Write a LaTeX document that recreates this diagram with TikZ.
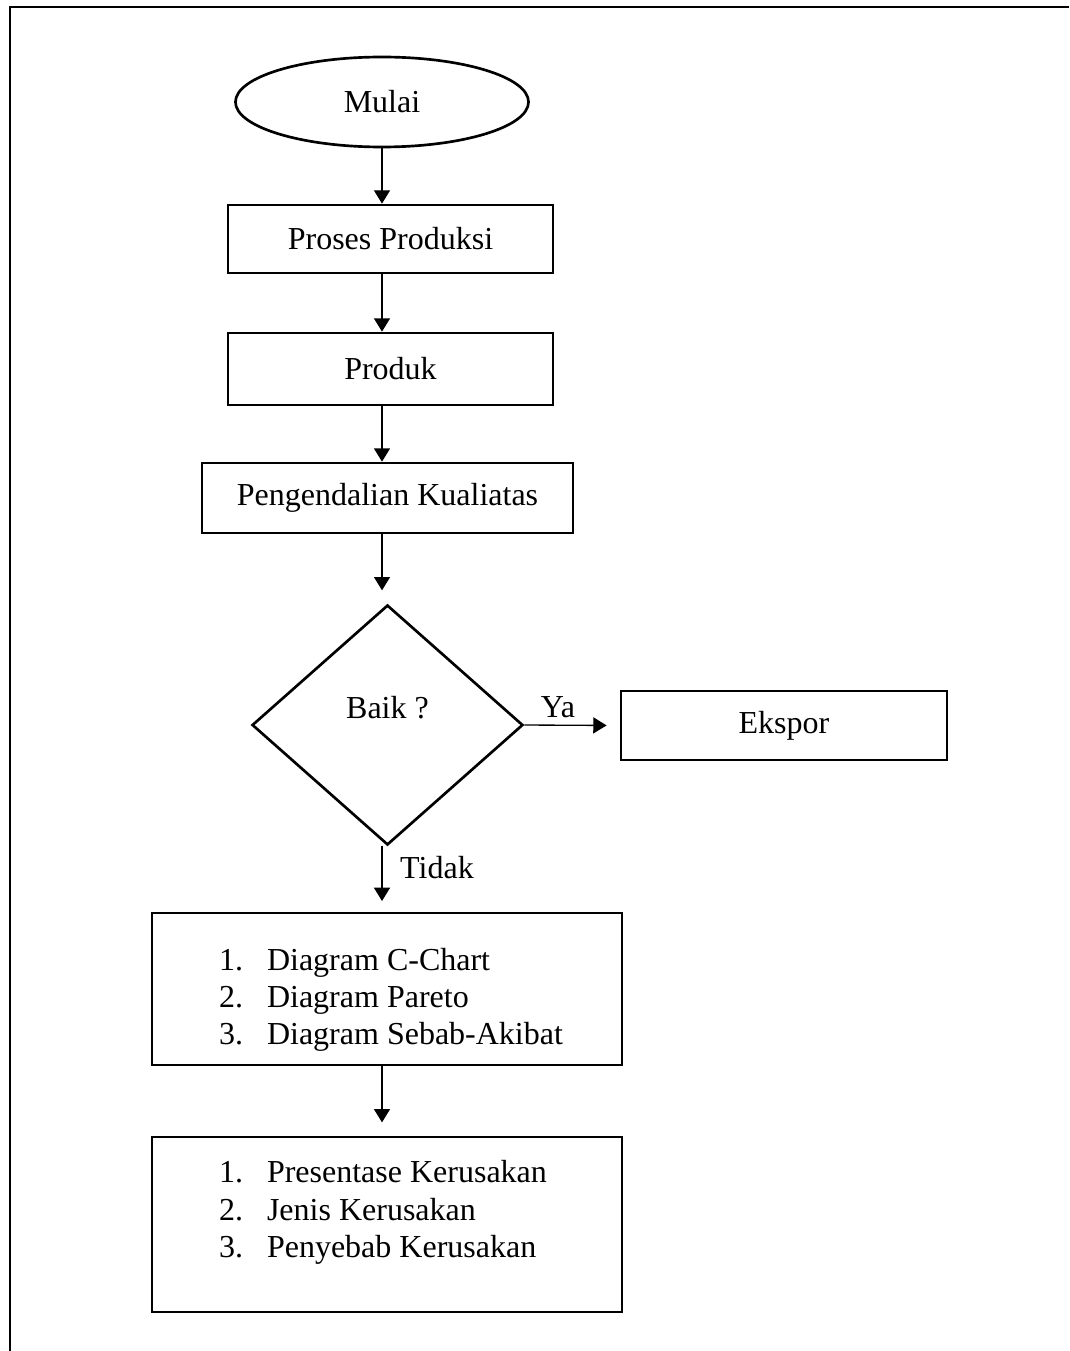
\documentclass[tikz,border=0pt]{standalone}
\usepackage{fontspec}
\setmainfont{Liberation Serif}
\usetikzlibrary{shapes.geometric,arrows.meta,positioning}

\begin{document}
\begin{tikzpicture}
  [x=0.375pt,y=-0.375pt,
   every node/.style={font=\fontsize{12}{14}\selectfont,inner sep=0pt},
   box/.style={draw,rectangle,line width=1pt},
   term/.style={draw,ellipse,line width=1pt,minimum width=109.9pt,minimum height=33.75pt},
   dec/.style={draw,diamond,line width=1pt,minimum width=101.6pt,minimum height=90pt},
   lst/.style={anchor=west,align=left},
   arr/.style={-{Triangle[length=5pt,width=6pt]},line width=0.5pt}]
  \useasboundingbox (0,0) rectangle (1069,1351);
  \draw[line width=1.1pt] (1069,7) -- (10,7) -- (10,1351);

  \node[term] (mulai) at (382,102) {Mulai};
  \node[box,minimum width=121.9pt,minimum height=25.5pt] (proses) at (390.5,239) {Proses Produksi};
  \node[box,minimum width=121.9pt,minimum height=27pt] (produk) at (390.5,369) {Produk};
  \node[box,minimum width=139.1pt,minimum height=26.25pt] (qc) at (387.5,498) {Pengendalian Kualiatas};
  \node[dec] (baik) at (387.5,725) {};
  \node (baiktxt) at (387.5,708) {Baik ?};
  \node[box,minimum width=122.25pt,minimum height=25.9pt] (ekspor) at (784,725.5) {Ekspor};
  \node[box,minimum width=176.25pt,minimum height=57pt] (alat) at (387,989) {};
  \node[lst] (alatlst) at (218.5,1000) {1.\hspace{9pt}Diagram C-Chart\\
    2.\hspace{9pt}Diagram Pareto\\
    3.\hspace{9pt}Diagram Sebab-Akibat};
  \node[box,minimum width=176.25pt,minimum height=65.6pt] (hasil) at (387,1224.5) {};
  \node[lst] (hasillst) at (218.5,1212.5) {1.\hspace{9pt}Presentase Kerusakan\\
    2.\hspace{9pt}Jenis Kerusakan\\
    3.\hspace{9pt}Penyebab Kerusakan};
  \node (ya) at (558,707) {Ya};
  \node (tidak) at (437,868) {Tidak};

  \foreach \from/\to/\gap in {mulai/proses/0pt,proses/produk/0pt,produk/qc/0pt,
      qc/baik/5pt,baik/alat/4pt,alat/hasil/5pt}
    \draw[arr,shorten >=\gap] (mulai.south |- \from.south) -- (mulai.south |- \to.north);
  \draw[arr,shorten >=4.9pt] (baik.east) -- (ekspor.west);

\end{tikzpicture}
\end{document}
